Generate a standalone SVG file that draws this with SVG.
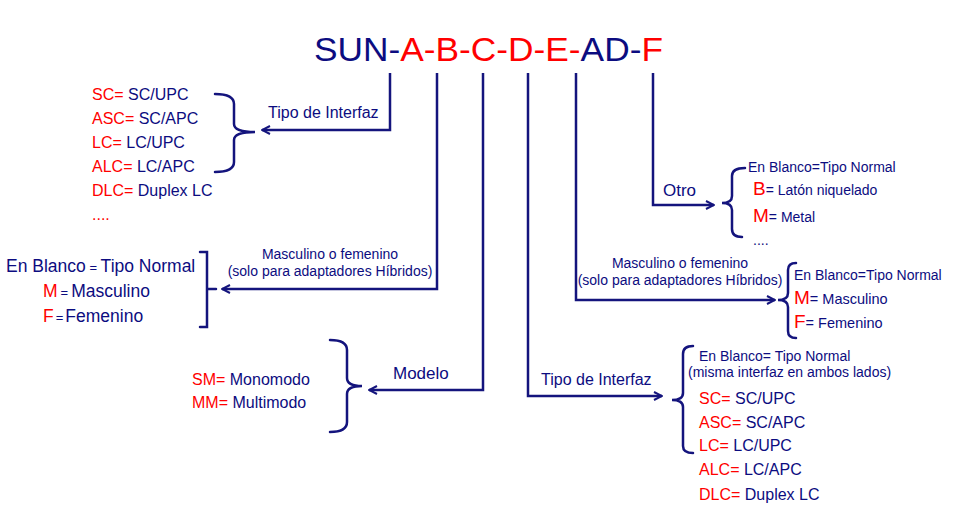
<svg xmlns="http://www.w3.org/2000/svg" width="960" height="512" viewBox="0 0 960 512">
<style>
text{font-family:"Liberation Sans",Arial,sans-serif;fill:#0c0c80}
.r{fill:#ff0000}
.n{fill:#0c0c80}
.ln{fill:none;stroke:#14147d;stroke-width:2.5;stroke-linejoin:miter}
.br{fill:none;stroke:#14147d;stroke-width:2.5;stroke-linecap:round}
.s16{font-size:16px}
.s14{font-size:14px}
</style>
<defs>
<marker id="ah" viewBox="0 0 10 10" refX="9" refY="5" markerWidth="10" markerHeight="10" markerUnits="userSpaceOnUse" orient="auto">
<path d="M1,1 L9,5 L1,9" fill="none" stroke="#14147d" stroke-width="2"/>
</marker>
</defs>
<rect width="960" height="512" fill="#ffffff"/>

<g id="title">
<text x="314" y="61" font-size="33" textLength="349" lengthAdjust="spacingAndGlyphs"><tspan class="n">SUN-</tspan><tspan class="r">A-B-C-D-E-</tspan><tspan class="n">AD-</tspan><tspan class="r">F</tspan></text>
</g>

<g id="connectors">
<path class="ln" d="M390,73 V130 H262" marker-end="url(#ah)"/>
<path class="ln" d="M437,73 V289 H222" marker-end="url(#ah)"/>
<path class="ln" d="M483,73 V390 H369" marker-end="url(#ah)"/>
<path class="ln" d="M528,73 V396 H662" marker-end="url(#ah)"/>
<path class="ln" d="M576,73 V300 H775" marker-end="url(#ah)"/>
<path class="ln" d="M653,73 V205 H714" marker-end="url(#ah)"/>
<text x="268" y="118" class="s16">Tipo de Interfaz</text>
<text x="330" y="259" class="s14" text-anchor="middle">Masculino o femenino</text>
<text x="330" y="276" class="s14" text-anchor="middle">(solo para adaptadores Híbridos)</text>
<text x="393" y="379" font-size="17">Modelo</text>
<text x="541" y="385" class="s16">Tipo de Interfaz</text>
<text x="680" y="268" class="s14" text-anchor="middle">Masculino o femenino</text>
<text x="680" y="285" class="s14" text-anchor="middle">(solo para adaptadores Híbridos)</text>
<text x="663" y="196" font-size="17">Otro</text>
</g>

<g id="node-interfaz-A">
<path class="br" d="M215,94 Q234,94 234,104 V124 Q234,132 255,132 Q234,132 234,140 V162 Q234,172 215,172"/>
<text x="92" y="100" class="s16"><tspan class="r">SC=</tspan> SC/UPC</text>
<text x="92" y="124" class="s16"><tspan class="r">ASC=</tspan> SC/APC</text>
<text x="92" y="148" class="s16"><tspan class="r">LC=</tspan> LC/UPC</text>
<text x="92" y="172" class="s16"><tspan class="r">ALC=</tspan> LC/APC</text>
<text x="92" y="196" class="s16"><tspan class="r">DLC=</tspan> Duplex LC</text>
<text x="92" y="220" class="s16 r">....</text>
</g>

<g id="node-genero-B">
<path class="br" d="M200,252 H207 V327 H200 M207,289 H216"/>
<text x="6" y="272" font-size="17.5">En Blanco<tspan font-size="13"> = </tspan>Tipo Normal</text>
<text x="43" y="297" font-size="17.5"><tspan class="r">M</tspan><tspan font-size="13" dx="3">=</tspan><tspan dx="3">Masculino</tspan></text>
<text x="43" y="322" font-size="17.5"><tspan class="r">F</tspan><tspan font-size="13" dx="2">=</tspan><tspan dx="2">Femenino</tspan></text>
</g>

<g id="node-modelo-C">
<path class="br" d="M330,340 Q347,340 347,350 V378 Q347,386 362,386 Q347,386 347,394 V422 Q347,432 330,432"/>
<text x="192" y="385" class="s16"><tspan class="r">SM=</tspan> Monomodo</text>
<text x="192" y="408" class="s16"><tspan class="r">MM=</tspan> Multimodo</text>
</g>

<g id="node-interfaz-D">
<path class="br" d="M693,346 Q683,346 683,354 V393 Q683,400 672,400 Q683,400 683,407 V446 Q683,453 693,453"/>
<text x="699" y="361" class="s14">En Blanco= Tipo Normal</text>
<text x="688" y="377" class="s14">(misma interfaz en ambos lados)</text>
<text x="699" y="404" class="s16"><tspan class="r">SC=</tspan> SC/UPC</text>
<text x="699" y="428" class="s16"><tspan class="r">ASC=</tspan> SC/APC</text>
<text x="699" y="451" class="s16"><tspan class="r">LC=</tspan> LC/UPC</text>
<text x="699" y="475" class="s16"><tspan class="r">ALC=</tspan> LC/APC</text>
<text x="699" y="500" class="s16"><tspan class="r">DLC=</tspan> Duplex LC</text>
</g>

<g id="node-genero-E">
<path class="br" d="M796,263 Q788,263 788,270 V293 Q788,300 778,300 Q788,300 788,307 V331 Q788,338 796,338"/>
<text x="794" y="280" class="s14">En Blanco=Tipo Normal</text>
<text x="794" y="304" font-size="14.5"><tspan class="r" font-size="19">M</tspan>= Masculino</text>
<text x="794" y="328" font-size="14.5"><tspan class="r" font-size="19">F</tspan>= Femenino</text>
</g>

<g id="node-otro-F">
<path class="br" d="M745,168 Q732,168 732,176 V196 Q732,203 722,203 Q732,203 732,210 V229 Q732,237 742,237"/>
<text x="748" y="172" class="s14">En Blanco=Tipo Normal</text>
<text x="753" y="195" class="s14"><tspan class="r" font-size="19">B</tspan>=  Latón niquelado</text>
<text x="753" y="222" class="s14"><tspan class="r" font-size="19">M</tspan>= Metal</text>
<text x="753" y="245" class="s14">....</text>
</g>
</svg>
